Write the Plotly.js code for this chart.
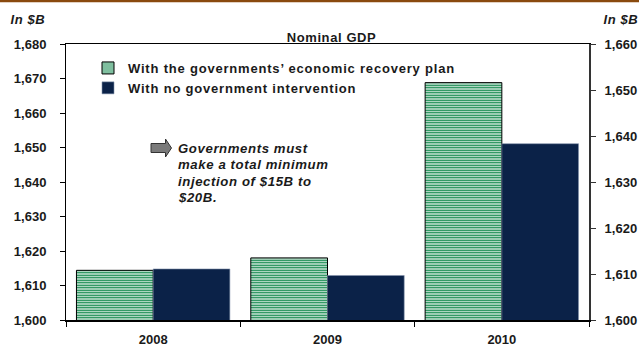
<!DOCTYPE html>
<html>
<head>
<meta charset="utf-8">
<script src="https://cdn.plot.ly/plotly-3.0.1.min.js"></script>
<style>
html,body{margin:0;padding:0;background:#fff;}
#chart{width:639px;height:347px;}
#chart .legendtext{letter-spacing:0.8px;}
#chart .legend .scrollbox{clip-path:none !important;}
#chart .annotation-text{letter-spacing:0.6px;}
</style>
</head>
<body>
<div id="chart"></div>
<script>
// ---- data ----
const years = ["2008", "2009", "2010"];
const withPlan = [1614.4, 1618.0, 1668.8];
const noIntervention = [1614.8, 1612.9, 1651.1];
const seriesNames = ["With the governments’ economic recovery plan", "With no government intervention"];
const leftTicks = [1600, 1610, 1620, 1630, 1640, 1650, 1660, 1670, 1680];
const rightTicks = [1600, 1610, 1620, 1630, 1640, 1650, 1660];
const chartTitle = "Nominal GDP";
const unitLabel = "In $B";
const noteLines = ["Governments must", "make a total minimum", "injection of $15B to", "$20B."];

// ---- layout helpers (pixel -> paper) ----
const W = 639, H = 347, ML = 66, MR = 50, MT = 44, MB = 27;
const PW = W - ML - MR, PH = H - MT - MB;
const px = X => (X - ML) / PW;
const py = Y => (H - MB - Y) / PH;

const FONT = "Liberation Sans, Arial, sans-serif";
const DARK = "#0b2248";
const GREEN = "#007f3f";
const fmt = v => "<b>" + v.toLocaleString("en-US") + "</b>";

const traces = [
  {
    type: "bar", name: "<b>" + seriesNames[0] + "</b>", x: years, y: withPlan,
    marker: {
      color: "white",
      line: {color: "#000", width: 1},
      pattern: {shape: "-", fgcolor: GREEN, bgcolor: "white", size: 2.5, solidity: 0.55}
    },
    hoverinfo: "skip"
  },
  {
    type: "bar", name: "<b>" + seriesNames[1] + "</b>", x: years, y: noIntervention,
    marker: {color: DARK, line: {color: "#8594ad", width: 0.6}},
    hoverinfo: "skip"
  },
  {
    type: "scatter", mode: "markers", x: years, y: [null, null, null],
    yaxis: "y2", showlegend: false, hoverinfo: "skip"
  }
];

// arrow icon path (pixel coords -> paper)
const arrowPts = [[151,143.5],[165.5,143.5],[165.5,139],[171.5,148],[165.5,157],[165.5,152.5],[151,152.5]];
const arrowPath = "M" + arrowPts.map(p => px(p[0]) + "," + py(p[1])).join(" L") + " Z";

const noteAnns = noteLines.map((t, i) => ({
  text: "<b><i>" + t + "</i></b>", xref: "paper", yref: "paper",
  x: px(176), y: py(148 + i * 16.5), xanchor: "left", yanchor: "middle",
  align: "left", showarrow: false,
  font: {family: FONT, size: 13.2, color: "#1a1a1a"}
}));

const layout = {
  width: W, height: H,
  margin: {l: ML, r: MR, t: MT, b: MB, pad: 0},
  paper_bgcolor: "#fff", plot_bgcolor: "#fff",
  font: {family: FONT, size: 12, color: "#1a1a1a"},
  barmode: "group", bargap: 0.12, bargroupgap: 0,
  showlegend: true,
  legend: {
    x: px(88), y: py(53), xanchor: "left", yanchor: "top",
    bgcolor: "rgba(0,0,0,0)", borderwidth: 0,
    font: {family: FONT, size: 13, color: "#1a1a1a"},
    tracegroupgap: 0, itemwidth: 30
  },
  xaxis: {
    type: "category", showgrid: false, zeroline: false,
    tickvals: years, ticktext: years.map(y => "<b>" + y + "</b>"),
    showline: true, linecolor: "#000", linewidth: 1.5, mirror: true,
    ticks: "outside", ticklen: 5, tickcolor: "#000", tickson: "boundaries",
    ticklabelstandoff: 7,
    tickfont: {family: FONT, size: 13, color: "#1a1a1a"},
    fixedrange: true
  },
  yaxis: {
    range: [1600, 1680], tickvals: leftTicks, ticktext: leftTicks.map(fmt),
    showgrid: false, zeroline: false,
    showline: true, linecolor: "#000", linewidth: 1,
    ticks: "outside", ticklen: 5, tickcolor: "#000",
    ticklabelstandoff: 11,
    tickfont: {family: FONT, size: 13, color: "#1a1a1a"},
    fixedrange: true
  },
  yaxis2: {
    overlaying: "y", side: "right",
    range: [1600, 1660], tickvals: rightTicks, ticktext: rightTicks.map(fmt),
    showgrid: false, zeroline: false,
    showline: true, linecolor: "#333", linewidth: 2,
    ticks: "outside", ticklen: 5, tickcolor: "#333",
    ticklabelstandoff: 6,
    tickfont: {family: FONT, size: 13, color: "#1a1a1a"},
    fixedrange: true
  },
  shapes: [
    {type: "line", xref: "paper", yref: "paper", x0: px(0), x1: px(W), y0: py(1), y1: py(1),
     line: {color: "#8a4a0e", width: 2.5}},
    {type: "path", xref: "paper", yref: "paper", path: arrowPath,
     fillcolor: "#7a7a7a", line: {color: "#333", width: 1}}
  ],
  annotations: [
    {text: "<b>" + chartTitle + "</b>", xref: "paper", yref: "paper", x: px(331), y: py(37),
     xanchor: "center", yanchor: "middle", showarrow: false,
     font: {family: FONT, size: 13, color: "#1a1a1a"}},
    {text: "<b><i>" + unitLabel + "</i></b>", xref: "paper", yref: "paper", x: px(10), y: py(19),
     xanchor: "left", yanchor: "middle", showarrow: false,
     font: {family: FONT, size: 13, color: "#1a1a1a"}},
    {text: "<b><i>" + unitLabel + "</i></b>", xref: "paper", yref: "paper", x: px(639), y: py(19),
     xanchor: "right", yanchor: "middle", showarrow: false,
     font: {family: FONT, size: 13, color: "#1a1a1a"}}
  ].concat(noteAnns)
};

Plotly.newPlot("chart", traces, layout, {displayModeBar: false, staticPlot: true});
</script>
</body>
</html>
